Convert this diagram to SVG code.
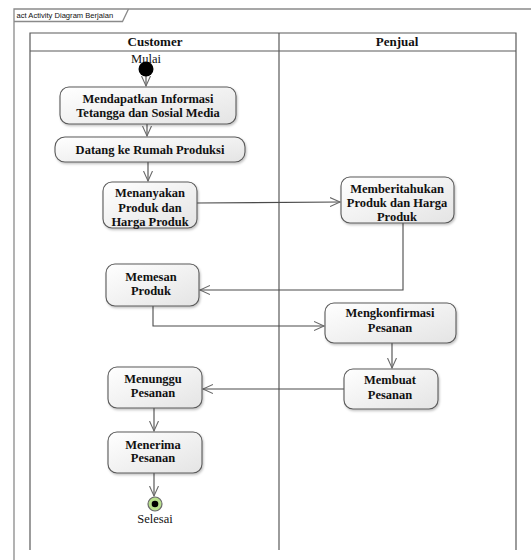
<svg xmlns="http://www.w3.org/2000/svg" width="531" height="560" viewBox="0 0 531 560">
<style>
.frame{fill:none;stroke:#8a8a8a;stroke-width:1.3}
.lane{fill:none;stroke:#5a5a5a;stroke-width:1.2}
.node{fill:url(#g);stroke:#5a5a5a;stroke-width:1.1;filter:url(#sh)}
.t{font-family:"Liberation Serif","Times New Roman",serif;font-weight:bold;font-size:12.5px;fill:#111;text-anchor:middle}
.h{font-family:"Liberation Serif","Times New Roman",serif;font-weight:bold;font-size:13px;fill:#111;text-anchor:middle}
.n{font-family:"Liberation Serif","Times New Roman",serif;font-size:12.5px;fill:#111;text-anchor:middle}
.tag{font-family:"Liberation Sans",Arial,sans-serif;font-size:7.6px;fill:#111}
.c{fill:none;stroke:#4a4a4a;stroke-width:1.1;marker-end:url(#a)}
</style>
<defs>
<linearGradient id="g" x1="0" y1="0" x2="1" y2="1">
<stop offset="0" stop-color="#ffffff"/>
<stop offset="1" stop-color="#e4e4e4"/>
</linearGradient>
<filter id="sh" x="-10%" y="-10%" width="130%" height="140%">
<feDropShadow dx="1" dy="1.5" stdDeviation="1" flood-color="#000" flood-opacity="0.25"/>
</filter>
<marker id="a" markerWidth="12" markerHeight="10" refX="10" refY="5" orient="auto" markerUnits="userSpaceOnUse">
<path d="M0,0.5 L10,5 L0,9.5" fill="none" stroke="#6a6a6a" stroke-width="1.1"/>
</marker>
</defs>
<rect width="531" height="560" fill="#fff"/>
<g id="frame">
<path class="frame" d="M14,560 L14,9 L531,9"/>
<path class="frame" d="M14,21.5 L122.5,21.5 L128.5,9"/>
<text class="tag" x="16.5" y="18">act Activity Diagram Berjalan</text>
</g>
<g id="lanes">
<path class="lane" d="M30,550 L30,33 L516,33 L516,550 M30,51 L516,51 M279,33 L279,550"/>
<text class="h" x="155" y="46">Customer</text>
<text class="h" x="397" y="46">Penjual</text>
</g>
<g id="connectors">
<path class="c" d="M146,76 L146,86"/>
<path class="c" d="M147,124 L147,136"/>
<path class="c" d="M148,162 L148,181"/>
<path class="c" d="M197,203 L340,202"/>
<path class="c" d="M403,223 L403,290 L200,290"/>
<path class="c" d="M153,306 L153,326 L324,326"/>
<path class="c" d="M392,343 L392,368"/>
<path class="c" d="M344,389 L203,389"/>
<path class="c" d="M154,408 L154,431"/>
<path class="c" d="M154,473 L154,496"/>
</g>
<g id="start">
<text class="n" x="146" y="63">Mulai</text>
<circle cx="146" cy="69" r="7.5" fill="#000"/>
</g>
<g id="n1">
<rect class="node" x="60" y="87" width="176" height="37" rx="9"/>
<text class="t" x="148" y="103">Mendapatkan Informasi</text>
<text class="t" x="148" y="117">Tetangga dan Sosial Media</text>
</g>
<g id="n2">
<rect class="node" x="55" y="137" width="190" height="25" rx="10"/>
<text class="t" x="150" y="154">Datang ke Rumah Produksi</text>
</g>
<g id="n3">
<rect class="node" x="103" y="182" width="94" height="46" rx="9"/>
<text class="t" x="150" y="197">Menanyakan</text>
<text class="t" x="150" y="212">Produk dan</text>
<text class="t" x="150" y="226">Harga Produk</text>
</g>
<g id="n4">
<rect class="node" x="341" y="177" width="113" height="46" rx="9"/>
<text class="t" x="397" y="193">Memberitahukan</text>
<text class="t" x="397" y="207">Produk dan Harga</text>
<text class="t" x="397" y="221">Produk</text>
</g>
<g id="n5">
<rect class="node" x="106" y="264" width="93" height="42" rx="9"/>
<text class="t" x="151" y="281">Memesan</text>
<text class="t" x="151" y="295">Produk</text>
</g>
<g id="n6">
<rect class="node" x="325" y="303" width="131" height="40" rx="9"/>
<text class="t" x="390" y="317">Mengkonfirmasi</text>
<text class="t" x="390" y="332">Pesanan</text>
</g>
<g id="n7">
<rect class="node" x="344" y="369" width="94" height="40" rx="9"/>
<text class="t" x="390" y="384">Membuat</text>
<text class="t" x="390" y="399">Pesanan</text>
</g>
<g id="n8">
<rect class="node" x="108" y="367" width="94" height="41" rx="9"/>
<text class="t" x="153" y="383">Menunggu</text>
<text class="t" x="153" y="397">Pesanan</text>
</g>
<g id="n9">
<rect class="node" x="108" y="432" width="94" height="41" rx="9"/>
<text class="t" x="153" y="449">Menerima</text>
<text class="t" x="153" y="462">Pesanan</text>
</g>
<g id="end">
<circle cx="155" cy="504" r="7" fill="#b8e08c" stroke="#6a6a6a" stroke-width="1.2"/>
<circle cx="155" cy="504" r="3.3" fill="#000"/>
<text class="n" x="155" y="523">Selesai</text>
</g>
</svg>
